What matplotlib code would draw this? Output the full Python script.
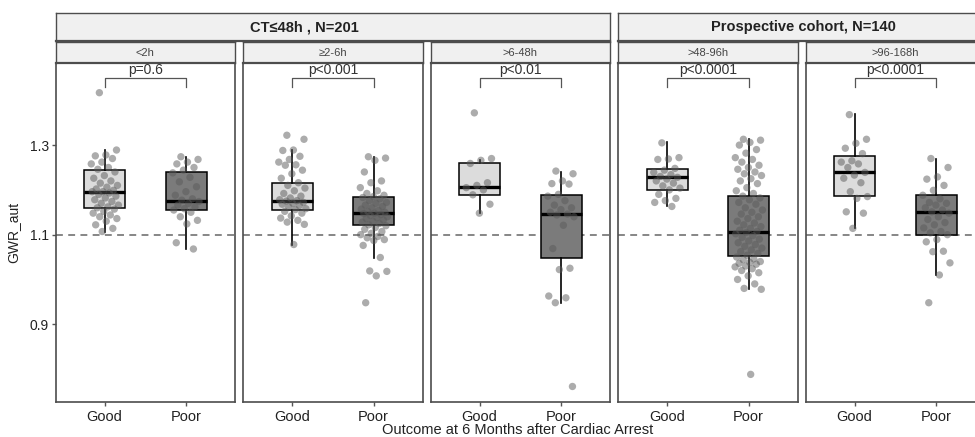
import numpy as np
import matplotlib
matplotlib.use("Agg")
import matplotlib.pyplot as plt

plt.rcParams['font.family'] = ['Liberation Sans', 'DejaVu Sans']

# ---------------- data ----------------
groups = ["CT\u226448h , N=201", "Prospective cohort, N=140"]
panels = ["<2h", "\u22652-6h", ">6-48h", ">48-96h", ">96-168h"]
panel_group = [0, 0, 0, 1, 1]
outcomes = ["Good", "Poor"]
pvalues = ["p=0.6", "p<0.001", "p<0.01", "p<0.0001", "p<0.0001"]

# box statistics: [whislo, q1, med, q3, whishi]
good_box = [
    [1.107, 1.159, 1.196, 1.244, 1.289],
    [1.078, 1.156, 1.176, 1.216, 1.289],
    [1.148, 1.188, 1.207, 1.259, 1.267],
    [1.164, 1.200, 1.229, 1.246, 1.307],
    [1.114, 1.187, 1.239, 1.275, 1.369],
]
poor_box = [
    [1.068, 1.155, 1.176, 1.240, 1.274],
    [1.049, 1.121, 1.148, 1.185, 1.273],
    [0.948, 1.047, 1.146, 1.188, 1.240],
    [0.978, 1.052, 1.107, 1.186, 1.313],
    [1.010, 1.099, 1.151, 1.188, 1.270],
]

good_pts = [
    [1.417, 1.289, 1.278, 1.276, 1.270, 1.262, 1.258, 1.250, 1.246, 1.240, 1.232,
     1.226, 1.220, 1.215, 1.210, 1.206, 1.202, 1.199, 1.196, 1.196, 1.193, 1.190,
     1.186, 1.182, 1.178, 1.174, 1.170, 1.166, 1.162, 1.160, 1.157, 1.152, 1.148,
     1.144, 1.140, 1.136, 1.130, 1.122, 1.114, 1.107],
    [1.322, 1.313, 1.289, 1.288, 1.275, 1.268, 1.262, 1.256, 1.255, 1.244, 1.236,
     1.226, 1.216, 1.210, 1.204, 1.198, 1.192, 1.186, 1.182, 1.178, 1.176, 1.175,
     1.172, 1.170, 1.168, 1.165, 1.162, 1.158, 1.156, 1.152, 1.148, 1.142, 1.137,
     1.132, 1.128, 1.123, 1.078],
    [1.372, 1.270, 1.266, 1.259, 1.216, 1.210, 1.205, 1.200, 1.189, 1.168, 1.148],
    [1.305, 1.272, 1.269, 1.268, 1.248, 1.244, 1.239, 1.234, 1.230, 1.228, 1.224,
     1.220, 1.215, 1.209, 1.204, 1.200, 1.190, 1.181, 1.176, 1.172, 1.163],
    [1.368, 1.313, 1.304, 1.293, 1.281, 1.265, 1.262, 1.258, 1.250, 1.239, 1.233,
     1.226, 1.216, 1.196, 1.185, 1.181, 1.151, 1.148, 1.114],
]
poor_pts = [
    [1.274, 1.268, 1.262, 1.258, 1.250, 1.244, 1.238, 1.228, 1.218, 1.207, 1.196,
     1.188, 1.180, 1.177, 1.174, 1.170, 1.166, 1.162, 1.158, 1.155, 1.150, 1.140,
     1.132, 1.124, 1.082, 1.068],
    [1.274, 1.271, 1.266, 1.240, 1.220, 1.216, 1.205, 1.198, 1.192, 1.188, 1.185,
     1.183, 1.180, 1.176, 1.172, 1.170, 1.166, 1.163, 1.160, 1.157, 1.154, 1.152,
     1.150, 1.148, 1.147, 1.145, 1.143, 1.140, 1.138, 1.136, 1.133, 1.130, 1.128,
     1.125, 1.122, 1.120, 1.116, 1.112, 1.107, 1.103, 1.100, 1.096, 1.093, 1.089,
     1.087, 1.076, 1.049, 1.019, 1.018, 1.008, 0.948],
    [1.242, 1.236, 1.220, 1.214, 1.213, 1.190, 1.186, 1.176, 1.166, 1.160, 1.156,
     1.150, 1.146, 1.144, 1.140, 1.121, 1.069, 1.025, 1.022, 0.963, 0.959, 0.948,
     0.761],
    [1.313, 1.311, 1.306, 1.300, 1.290, 1.282, 1.272, 1.268, 1.262, 1.255, 1.250,
     1.246, 1.240, 1.236, 1.232, 1.225, 1.220, 1.214, 1.205, 1.198, 1.192, 1.186,
     1.182, 1.178, 1.172, 1.168, 1.160, 1.155, 1.150, 1.146, 1.140, 1.136, 1.130,
     1.126, 1.122, 1.118, 1.114, 1.110, 1.107, 1.105, 1.102, 1.098, 1.094, 1.090,
     1.086, 1.082, 1.078, 1.074, 1.070, 1.066, 1.062, 1.058, 1.054, 1.050, 1.046,
     1.044, 1.040, 1.038, 1.036, 1.034, 1.030, 1.028, 1.024, 1.020, 1.015, 1.008,
     1.000, 0.990, 0.980, 0.978, 0.788],
    [1.270, 1.250, 1.229, 1.224, 1.210, 1.199, 1.188, 1.180, 1.172, 1.170, 1.166,
     1.160, 1.155, 1.151, 1.148, 1.140, 1.134, 1.127, 1.122, 1.115, 1.107, 1.104,
     1.100, 1.089, 1.084, 1.063, 1.062, 1.037, 1.010, 0.948],
]

yticks = [0.9, 1.1, 1.3]
ref_line = 1.1
bracket_y = 1.450
bracket_tick = 1.429

# ---------------- layout ----------------
W, H = 975, 437
fig = plt.figure(figsize=(W / 100, H / 100), dpi=100)

def fx(px):
    return px / W

def fy(py):
    return 1 - py / H

panel_left = [55.7, 243.2, 430.7, 618.2, 805.7]
panel_w = 179.4
panel_top, panel_bot = 62.7, 401.7
inner_top = 42.3
outer_top, outer_bot = 12.7, 41.3

edge = "#4d4d4d"
strip_fill = "#f0f0f0"
ylim = (0.727, 1.484)

def jitter(n, width=0.17):
    k = np.arange(n)
    return ((k * 0.6180339887 + 0.31) % 1.0 - 0.5) * 2 * width

for i in range(5):
    L = panel_left[i]
    ax = fig.add_axes([fx(L), fy(panel_bot), fx(panel_w), (panel_bot - panel_top) / H])
    ax.set_xlim(0.4, 2.6)
    ax.set_ylim(*ylim)
    for s in ax.spines.values():
        s.set_color(edge)
        s.set_linewidth(1.2)
    ax.axhline(ref_line, color="#666666", lw=1.1, ls=(0, (4.5, 3.5)), zorder=1)

    stats = []
    for box, lab in ((good_box[i], "Good"), (poor_box[i], "Poor")):
        stats.append(dict(whislo=box[0], q1=box[1], med=box[2], q3=box[3],
                          whishi=box[4], fliers=[], label=lab))
    bp = ax.bxp(stats, positions=[1, 2], widths=0.5, patch_artist=True,
                showcaps=False, showfliers=False,
                boxprops=dict(edgecolor="black", linewidth=1.1),
                whiskerprops=dict(color="black", linewidth=1.2),
                medianprops=dict(color="black", linewidth=2.4),
                zorder=2)
    bp["boxes"][0].set_facecolor("#dcdcdc")
    bp["boxes"][1].set_facecolor("#7b7b7b")

    for pos, pts in ((1, good_pts[i]), (2, poor_pts[i])):
        pts = np.array(pts)
        ax.scatter(pos + jitter(len(pts)), pts, s=28, color="#5a5a5a",
                   alpha=0.5, edgecolors="none", zorder=3)

    # significance bracket
    ax.plot([1, 1, 2, 2], [bracket_tick, bracket_y, bracket_y, bracket_tick],
            color="#555555", lw=0.9, zorder=3)
    ax.text(1.5, bracket_y + 0.003, pvalues[i], ha="center", va="bottom",
            fontsize=10, color="#333333")

    ax.set_xticks([1, 2])
    ax.set_xticklabels(outcomes, fontsize=10.5, color="#222222")
    ax.tick_params(axis="x", length=3, width=1, color="#555555", pad=3)
    if i == 0:
        ax.set_yticks(yticks)
        ax.set_yticklabels([f"{v:.1f}" for v in yticks], fontsize=10, color="#222222")
        ax.tick_params(axis="y", length=3, width=1, color="#555555", pad=2)
    else:
        ax.set_yticks([])

    # inner strip
    sax = fig.add_axes([fx(L), fy(panel_top), fx(panel_w), (panel_top - inner_top) / H])
    sax.set_xticks([]); sax.set_yticks([])
    sax.set_facecolor(strip_fill)
    for s in sax.spines.values():
        s.set_color(edge); s.set_linewidth(1.0)
    sax.spines["bottom"].set_linewidth(1.6)
    sax.text(0.5, 0.5, panels[i], ha="center", va="center", fontsize=8,
             color="#444444", transform=sax.transAxes)

# outer strips
group_span = [(panel_left[0], panel_left[2] + panel_w),
              (panel_left[3], panel_left[4] + panel_w)]
group_text_x = [304, 803]
for g in range(2):
    a, b = group_span[g]
    oax = fig.add_axes([fx(a), fy(outer_bot), fx(b - a), (outer_bot - outer_top) / H])
    oax.set_xticks([]); oax.set_yticks([])
    oax.set_facecolor(strip_fill)
    for s in oax.spines.values():
        s.set_color(edge); s.set_linewidth(1.0)
    oax.spines["bottom"].set_linewidth(1.6)
    oax.text((group_text_x[g] - a) / (b - a), 0.5, groups[g], ha="center",
             va="center", fontsize=10.5, fontweight="bold", color="#222222",
             transform=oax.transAxes)

fig.text(fx(518), fy(430), "Outcome at 6 Months after Cardiac Arrest",
         ha="center", va="center", fontsize=10.5, color="#222222")
fig.text(fx(13), fy(232), "GWR_aut", ha="center", va="center", rotation=90,
         fontsize=10, color="#222222")

fig.savefig("out.png", dpi=100)
